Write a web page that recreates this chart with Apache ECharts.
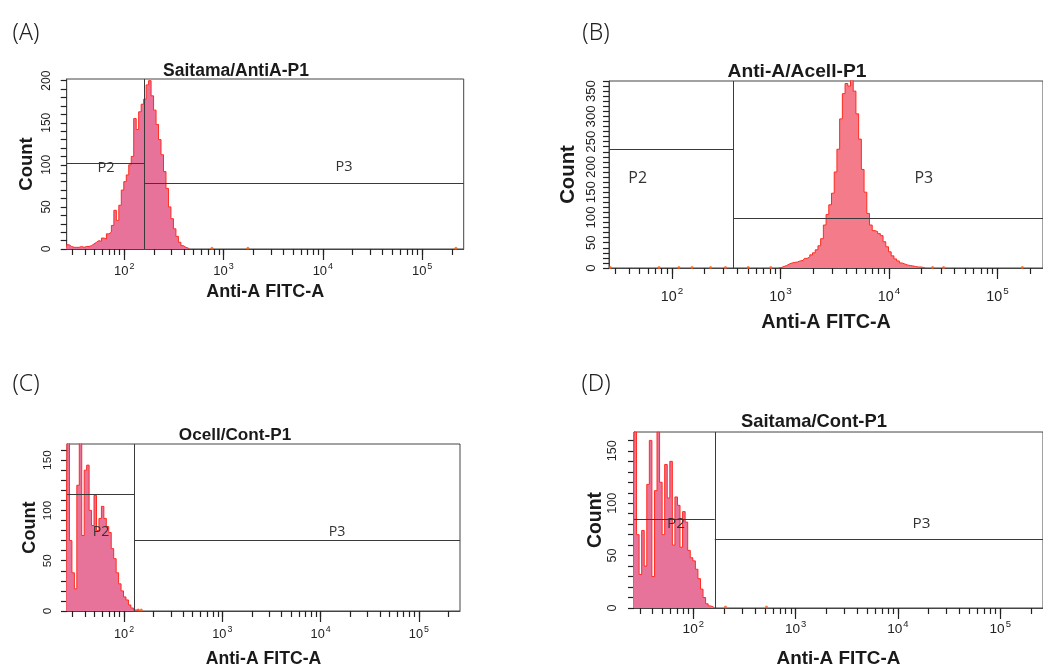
<!DOCTYPE html>
<html>
<head>
<meta charset="utf-8">
<script src="https://cdn.jsdelivr.net/npm/echarts@6/dist/echarts.min.js"></script>
<style>
  html, body { margin: 0; padding: 0; background: #fff; }
  #chart { width: 1043px; height: 669px; }
</style>
</head>
<body>
<div id="chart"></div>
<script>
// histogram binning of the FITC channel (log scale, 40 bins per decade)
var BINS_PER_DECADE = 40;
var LOG_MIN = 1.42;
var X_MIN = Math.pow(10, LOG_MIN);
var X_MAX = 262144;

var panelLetters = ['(A)', '(B)', '(C)', '(D)'];
var panelTitles = ['Saitama/AntiA-P1', 'Anti-A/Acell-P1', 'Ocell/Cont-P1', 'Saitama/Cont-P1'];
var xName = 'Anti-A FITC-A';
var yName = 'Count';
var xLabelValues = [100, 1000, 10000, 100000];
var yLabelStep = 50;
var yTickStep = 10;
var yMax = [202, 370, 166, 168];

// counts per bin, starting at bin index firstBin*
var firstBinA = 0;
var countsA = [5, 3, 2, 2, 2, 3, 2, 3, 3, 4, 6, 8, 10, 9, 13, 12, 18, 20, 28, 46,
  34, 52, 70, 80, 88, 100, 110, 155, 142, 163, 172, 178, 195, 200, 182, 165, 148, 130, 112, 92,
  72, 50, 36, 24, 15, 8, 4, 2, 1];
var firstBinB = 63;
var countsB = [1, 3, 5, 8, 10, 11, 12, 14, 15, 19, 22, 26, 30, 36, 44, 58, 85, 106, 125, 148,
  190, 235, 295, 345, 365, 360, 372, 350, 305, 255, 195, 150, 108, 85, 74, 72, 68, 64, 52, 42,
  32, 24, 18, 14, 10, 8, 6, 5, 4, 3, 2, 2, 1];
var firstBinC = 0;
var countsC = [168, 70, 38, 22, 125, 168, 75, 140, 145, 100, 85, 115, 80, 92, 104, 92, 84, 78, 62, 52,
  38, 27, 20, 14, 11, 6, 3, 1, 1];
var firstBinD = 0;
var countsD = [168, 70, 32, 74, 40, 118, 160, 30, 112, 168, 120, 70, 137, 105, 140, 60, 106, 98, 58, 92,
  82, 55, 48, 45, 37, 28, 18, 10, 4, 2, 1];

// isolated events on the baseline
var dotsA = [[764, 1], [1758, 1], [219000, 1]];
var dotsB = [[27, 1], [76, 1], [116, 1], [153, 1], [227, 1], [311, 1], [504, 1], [815, 1], [25200, 1], [31800, 1], [169000, 1]];
var dotsC = [[140, 1], [150, 1]];
var dotsD = [[206, 1], [519, 1]];

// gates: split position and bar heights of P2 / P3
var gateX = [158, 367, 126.5, 162];
var gateP2 = [102, 235.6, 115.8, 84.6];
var gateP3 = [78.4, 99, 70, 65.6];
var p2Pos = [[65.5, 96.8], [48.3, 178], [58.3, 79], [67.6, 80.6]];
var p3Pos = [[16300, 97.4], [20900, 178], [14700, 79], [17000, 80.6]];

var counts = [countsA, countsB, countsC, countsD];
var firstBins = [firstBinA, firstBinB, firstBinC, firstBinD];
var dots = [dotsA, dotsB, dotsC, dotsD];

// layout of the four panels
var layout = [
  { left: 66.7, top: 79, width: 397, height: 170, s: 1.0, letter: [26, 33], title: [236, 71], xGap: 34, yGap: 30, yMargin: 14, xMargin: 13 },
  { left: 609, top: 81, width: 440, height: 187, s: 1.1, letter: [596, 33], title: [797, 72], xGap: 45, yGap: 31, yMargin: 11, xMargin: 18 },
  { left: 67, top: 444, width: 393, height: 168, s: 0.98, letter: [26, 384], title: [235, 435], xGap: 39, yGap: 28, yMargin: 13, xMargin: 14 },
  { left: 634, top: 432, width: 420, height: 179, s: 1.05, letter: [596, 384], title: [814, 422], xGap: 41, yGap: 29, yMargin: 15, xMargin: 12 }
];
var fills = ['#e8739a', '#f47c8a', '#e8739a', '#e8739a'];

function binCenter(i) {
  return Math.pow(10, LOG_MIN + (i + 0.5) / BINS_PER_DECADE);
}
function steps(step, max) {
  var out = [];
  for (var v = 0; v <= max; v += step) out.push(v);
  return out;
}
var xMinorTicks = [];
for (var d = 1; d <= 5; d++) {
  for (var k = 1; k <= 9; k++) {
    var t = k * Math.pow(10, d);
    if (t >= X_MIN && t <= X_MAX) xMinorTicks.push(t);
  }
}

var grids = [], xAxes = [], yAxes = [], series = [], graphics = [];
layout.forEach(function (L, p) {
  var s = L.s;
  grids.push({ left: L.left, top: L.top, width: L.width, height: L.height, show: true, borderColor: '#444', borderWidth: 1, backgroundColor: 'transparent' });
  xAxes.push({
    type: 'log', logBase: 10, min: X_MIN, max: X_MAX, gridIndex: p, position: 'bottom',
    name: xName, nameLocation: 'middle', nameGap: L.xGap,
    nameTextStyle: { fontFamily: 'Liberation Sans', fontWeight: 'bold', fontSize: 18 * s, color: '#1a1a1a' },
    axisLine: { show: true, lineStyle: { color: '#444', width: 1 } },
    axisTick: { show: true, customValues: xMinorTicks, length: 6, lineStyle: { color: '#222', width: 1.2 } },
    axisLabel: {
      show: true, customValues: xLabelValues, margin: L.xMargin,
      formatter: function (v) {
        var e = v > 20 ? Math.round(Math.log(v) / Math.LN10) : Math.round(v);
        return '{b|10}{s|' + e + '}';
      },
      rich: {
        b: { fontFamily: 'Liberation Sans', fontSize: 13 * s, color: '#222', verticalAlign: 'bottom' },
        s: { fontFamily: 'Liberation Sans', fontSize: 9 * s, color: '#222', verticalAlign: 'bottom', padding: [0, 0, 7 * s, 1] }
      }
    },
    splitLine: { show: false }, minorTick: { show: false }
  });
  xAxes.push({
    type: 'log', logBase: 10, min: X_MIN, max: X_MAX, gridIndex: p, position: 'bottom', offset: 0,
    axisLine: { show: false },
    axisTick: { show: true, customValues: xLabelValues, length: 11, lineStyle: { color: '#222', width: 1.2 } },
    axisLabel: { show: false }, splitLine: { show: false }
  });
  yAxes.push({
    type: 'value', min: 0, max: yMax[p], gridIndex: p,
    name: yName, nameLocation: 'middle', nameGap: L.yGap,
    nameTextStyle: { fontFamily: 'Liberation Sans', fontWeight: 'bold', fontSize: 18.5 * s, color: '#1a1a1a' },
    axisLine: { show: true, lineStyle: { color: '#444', width: 1 } },
    axisTick: { show: true, customValues: steps(yTickStep, yMax[p]), length: 6, lineStyle: { color: '#222', width: 1.2 } },
    axisLabel: { show: true, customValues: steps(yLabelStep, yMax[p]), rotate: 90, margin: L.yMargin, fontFamily: 'Liberation Sans', fontSize: 12 * s, color: '#222' },
    splitLine: { show: false }
  });

  var c = counts[p], f = firstBins[p];
  var data = [[binCenter(f - 1), 0]];
  c.forEach(function (v, k) { data.push([binCenter(f + k), v]); });
  data.push([binCenter(f + c.length), 0]);

  series.push({
    type: 'line', xAxisIndex: 2 * p, yAxisIndex: p, data: data, step: 'middle',
    symbol: 'none', clip: true,
    lineStyle: { color: '#ff2b1f', width: 1 },
    areaStyle: { color: fills[p], opacity: 1 },
    markLine: {
      silent: true, symbol: ['none', 'none'], label: { show: false },
      lineStyle: { color: '#3a3a3a', width: 1, type: 'solid' },
      data: [
        [{ coord: [gateX[p], 0] }, { coord: [gateX[p], yMax[p]] }],
        [{ coord: [X_MIN, gateP2[p]] }, { coord: [gateX[p], gateP2[p]] }],
        [{ coord: [gateX[p], gateP3[p]] }, { coord: [X_MAX, gateP3[p]] }]
      ]
    },
    markPoint: {
      silent: true, symbol: 'rect', symbolSize: 1, itemStyle: { color: 'transparent' },
      label: { show: true, position: 'inside', formatter: '{b}', fontFamily: 'Open Sans', fontSize: 14.5 * s, color: '#333' },
      data: [{ name: 'P2', coord: p2Pos[p] }, { name: 'P3', coord: p3Pos[p] }]
    }
  });
  series.push({
    type: 'scatter', xAxisIndex: 2 * p, yAxisIndex: p, data: dots[p],
    symbolSize: 3, itemStyle: { color: '#ff5a1a' }, silent: true
  });

  graphics.push({
    type: 'text', x: L.letter[0], y: L.letter[1],
    style: { text: panelLetters[p], fontFamily: 'Noto Sans', fontWeight: 300, fontSize: 23, fill: '#222', align: 'center', verticalAlign: 'middle' }
  });
  graphics.push({
    type: 'text', x: L.title[0], y: L.title[1],
    style: { text: panelTitles[p], fontFamily: 'Liberation Sans', fontWeight: 'bold', fontSize: 17.5 * s, fill: '#1a1a1a', align: 'center', verticalAlign: 'middle' }
  });
});

var chart = echarts.init(document.getElementById('chart'));
chart.setOption({
  animation: false,
  backgroundColor: '#fff',
  grid: grids,
  xAxis: xAxes,
  yAxis: yAxes,
  series: series,
  graphic: graphics
});
</script>
</body>
</html>
